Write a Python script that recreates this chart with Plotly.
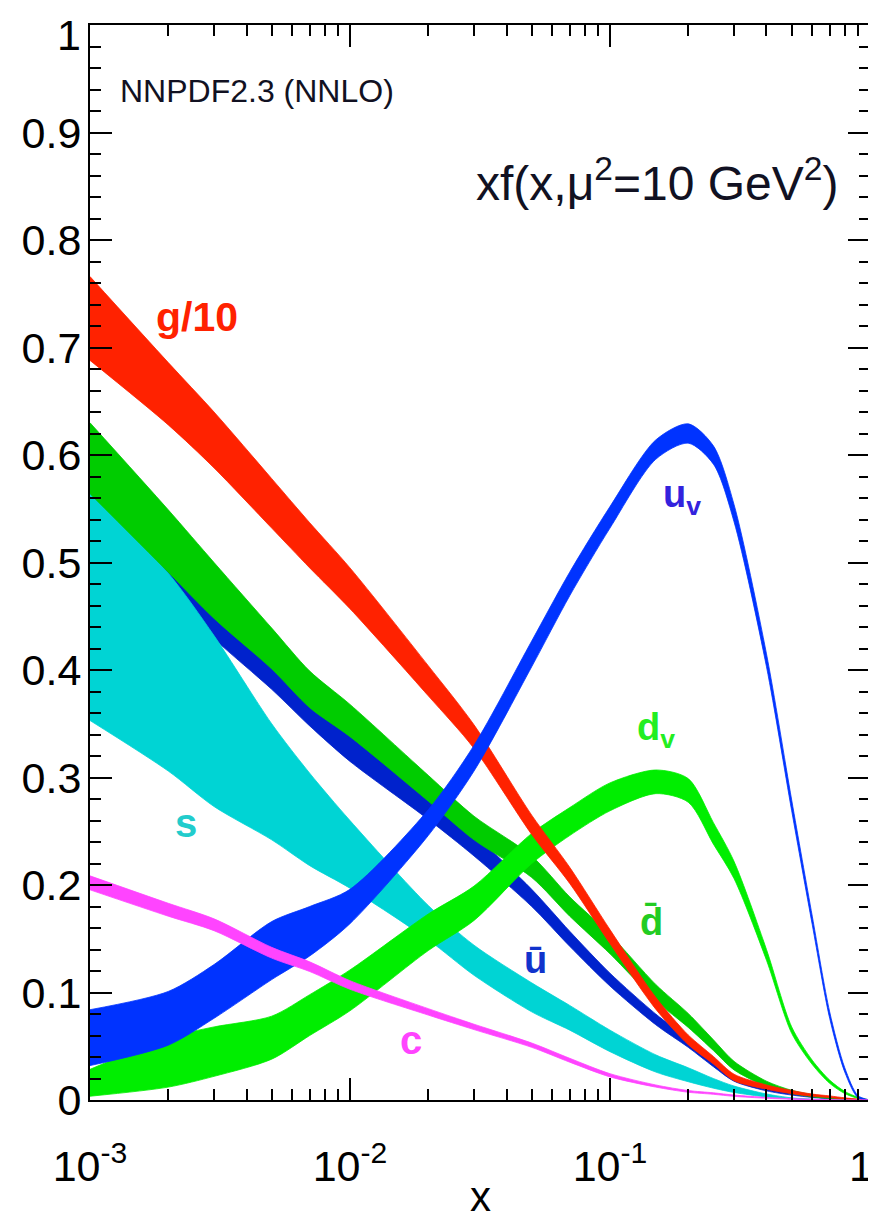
import plotly.graph_objects as go

# ---------------- data ----------------
x = [0.001, 0.002, 0.003, 0.005, 0.007, 0.01, 0.02, 0.03, 0.05, 0.07, 0.1,
     0.15, 0.2, 0.25, 0.3, 0.4, 0.5, 0.6, 0.7, 0.8, 0.9, 1.0]

g_c = [0.727, 0.657, 0.614, 0.555, 0.516, 0.476, 0.390, 0.338, 0.256, 0.209, 0.152,
       0.090, 0.056, 0.037, 0.021, 0.012, 0.0074, 0.0045, 0.003, 0.0015, 0.0005, 0]
g_e = [0.039, 0.029, 0.026, 0.023, 0.021, 0.019, 0.014, 0.011, 0.009, 0.0075, 0.0065,
       0.0055, 0.0045, 0.0035, 0.003, 0.002, 0.0015, 0.001, 0.0008, 0.0005, 0.0003, 0]

dbar_c = [0.597, 0.520, 0.474, 0.420, 0.382, 0.353, 0.290, 0.253, 0.217, 0.180, 0.145,
          0.100, 0.074, 0.051, 0.032, 0.015, 0.0075, 0.004, 0.002, 0.001, 0.0003, 0]
dbar_e = [0.033, 0.029, 0.026, 0.019, 0.017, 0.015, 0.012, 0.011, 0.010, 0.009, 0.009,
          0.0075, 0.0065, 0.005, 0.004, 0.0025, 0.0015, 0.001, 0.0006, 0.0004, 0.0002, 0]

ubar_c = [0.555, 0.490, 0.442, 0.393, 0.360, 0.327, 0.272, 0.237, 0.188, 0.150, 0.112,
          0.075, 0.053, 0.034, 0.020, 0.010, 0.0056, 0.003, 0.0015, 0.0007, 0.0002, 0]
ubar_e = [0.03, 0.02, 0.013, 0.011, 0.012, 0.012, 0.011, 0.010, 0.008, 0.007, 0.006,
          0.005, 0.004, 0.003, 0.0025, 0.0015, 0.001, 0.0006, 0.0004, 0.0003, 0.0001, 0]

s_c = [0.459, 0.398, 0.3525, 0.296, 0.261, 0.2285, 0.165, 0.130, 0.0955, 0.0765, 0.055,
       0.034, 0.0235, 0.0155, 0.010, 0.0042, 0.0015, 0.00055, 0.0002, 0.00005, 0, 0]
s_e = [0.106, 0.092, 0.0795, 0.054, 0.043, 0.0315, 0.016, 0.014, 0.0135, 0.0115, 0.010,
       0.008, 0.0065, 0.0045, 0.003, 0.0014, 0.0005, 0.00025, 0.0001, 0.00005, 0, 0]

uv_c = [0.058, 0.076, 0.101, 0.139, 0.157, 0.180, 0.258, 0.318, 0.415, 0.480, 0.542,
        0.605, 0.620, 0.600, 0.546, 0.409, 0.274, 0.167, 0.079, 0.028, 0.003, 0]
uv_e = [0.026, 0.025, 0.025, 0.027, 0.023, 0.016, 0.012, 0.012, 0.012, 0.011, 0.010,
        0.009, 0.009, 0.0085, 0.008, 0.006, 0.005, 0.004, 0.003, 0.002, 0.001, 0]

dv_c = [0.016, 0.035, 0.045, 0.058, 0.079, 0.102, 0.156, 0.183, 0.234, 0.259, 0.282,
        0.296, 0.288, 0.248, 0.214, 0.135, 0.065, 0.035, 0.017, 0.007, 0.002, 0]
dv_e = [0.0125, 0.023, 0.023, 0.020, 0.019, 0.019, 0.017, 0.016, 0.014, 0.013, 0.013,
        0.011, 0.011, 0.010, 0.008, 0.005, 0.003, 0.002, 0.0015, 0.001, 0.0005, 0]

c_c = [0.202, 0.177, 0.163, 0.137, 0.124, 0.107, 0.082, 0.068, 0.051, 0.037, 0.023,
       0.013, 0.008, 0.006, 0.004, 0.002, 0.001, 0.0005, 0.0002, 0, 0, 0]
c_e = [0.0065, 0.006, 0.0055, 0.005, 0.0045, 0.004, 0.003, 0.0025, 0.002, 0.0018, 0.0015,
       0.001, 0.0008, 0.0007, 0.0006, 0.0004, 0.0003, 0.0002, 0.0001, 0, 0, 0]

y_ticks = [0, 0.1, 0.2, 0.3, 0.4, 0.5, 0.6, 0.7, 0.8, 0.9, 1.0]
y_ticktext = ["0", "0.1", "0.2", "0.3", "0.4", "0.5", "0.6", "0.7", "0.8", "0.9", ""]
x_ticks = [0.001, 0.01, 0.1, 1]
x_ticktext = ["10<sup>-3</sup>", "10<sup>-2</sup>", "10<sup>-1</sup>", ""]
end_label = "1"   # label of the last tick on both axes (placed so it stays on the page)
x_minor = [m * d for d in (0.001, 0.01, 0.1) for m in range(2, 10)]

FONT = "Liberation Sans, Arial, Helvetica, sans-serif"

fig = go.Figure()


def band(c, e, color, lw=0.8):
    up = [a + b for a, b in zip(c, e)]
    lo = [max(a - b, 0) for a, b in zip(c, e)]
    fig.add_trace(go.Scatter(
        x=x + x[::-1], y=up + lo[::-1], mode="lines", fill="toself",
        fillcolor=color, line=dict(color=color, width=lw, shape="spline", smoothing=0.8),
        hoverinfo="skip", showlegend=False))


# drawing order (bottom -> top)
band(ubar_c, ubar_e, "#0022cc")
band(s_c, s_e, "#00d4d4")
band(dbar_c, dbar_e, "#00cc00")
band(dv_c, dv_e, "#00ee00")
band(g_c, g_e, "#ff2200")
band(uv_c, uv_e, "#0033ff")
band(c_c, c_e, "#ff44ff")

axis_common = dict(showline=True, linecolor="black", linewidth=2, mirror="ticks",
                   ticks="inside", tickcolor="black", tickwidth=2, ticklen=22,
                   showgrid=False, zeroline=False, automargin=False,
                   ticklabeloverflow="allow",
                   tickfont=dict(family=FONT, size=43, color="black"))

fig.update_xaxes(type="log", range=[-3, 0.0002], tickvals=x_ticks, ticktext=x_ticktext,
                 ticklabelstandoff=27,
                 minor=dict(tickvals=x_minor, ticks="inside", ticklen=11,
                            tickwidth=2, tickcolor="black", showgrid=False),
                 **axis_common)
fig.update_yaxes(range=[0, 1], tickvals=y_ticks, ticktext=y_ticktext,
                 ticklabelstandoff=-2,
                 minor=dict(dtick=0.02, ticks="inside", ticklen=11,
                            tickwidth=2, tickcolor="black", showgrid=False),
                 **axis_common)


def ann(text, px, py, color, size, anchor="center", bold=True, yanchor="middle"):
    fig.add_annotation(
        text=("<b>%s</b>" % text) if bold else text,
        x=(px - 90) / 780, y=(1100 - py) / 1075, xref="paper", yref="paper",
        xanchor=anchor, yanchor=yanchor, showarrow=False,
        font=dict(family=FONT, size=size, color=color))


ann("NNPDF2.3 (NNLO)", 118, 91, "#111122", 32, anchor="left", bold=False)
ann("xf(x,\u03bc<sup>2</sup>=10 GeV<sup>2</sup>)", 840, 180, "#111122", 48,
    anchor="right", bold=False)
ann("g/10", 197, 317, "#ff2200", 41)
ann("u<sub>v</sub>", 682, 497, "#3322dd", 38)
ann("d<sub>v</sub>", 656, 730, "#22ee22", 38)
ann("d\u0304", 651, 922, "#22cc22", 38)
ann("\u016b", 535, 960, "#1133cc", 38)
ann("s", 186, 823, "#22cccc", 40)
ann("c", 411, 1040, "#ff44ff", 40)
ann("x", 480, 1222, "black", 42, bold=False, yanchor="bottom")
# end-of-axis tick labels
ann(end_label, 83, 9, "black", 43, anchor="right", bold=False, yanchor="top")
ann(end_label, 875, 1166, "black", 43, anchor="right", bold=False)

# the page adds an 8 px body margin, so the figure is 8 px smaller and the
# left/top margins 8 px narrower to keep the plot frame at the reference spot
fig.update_layout(width=868, height=1215,
                  margin=dict(l=82, r=6, t=17, b=123),
                  plot_bgcolor="white", paper_bgcolor="white",
                  font=dict(family=FONT))

fig.write_html("out.html")
